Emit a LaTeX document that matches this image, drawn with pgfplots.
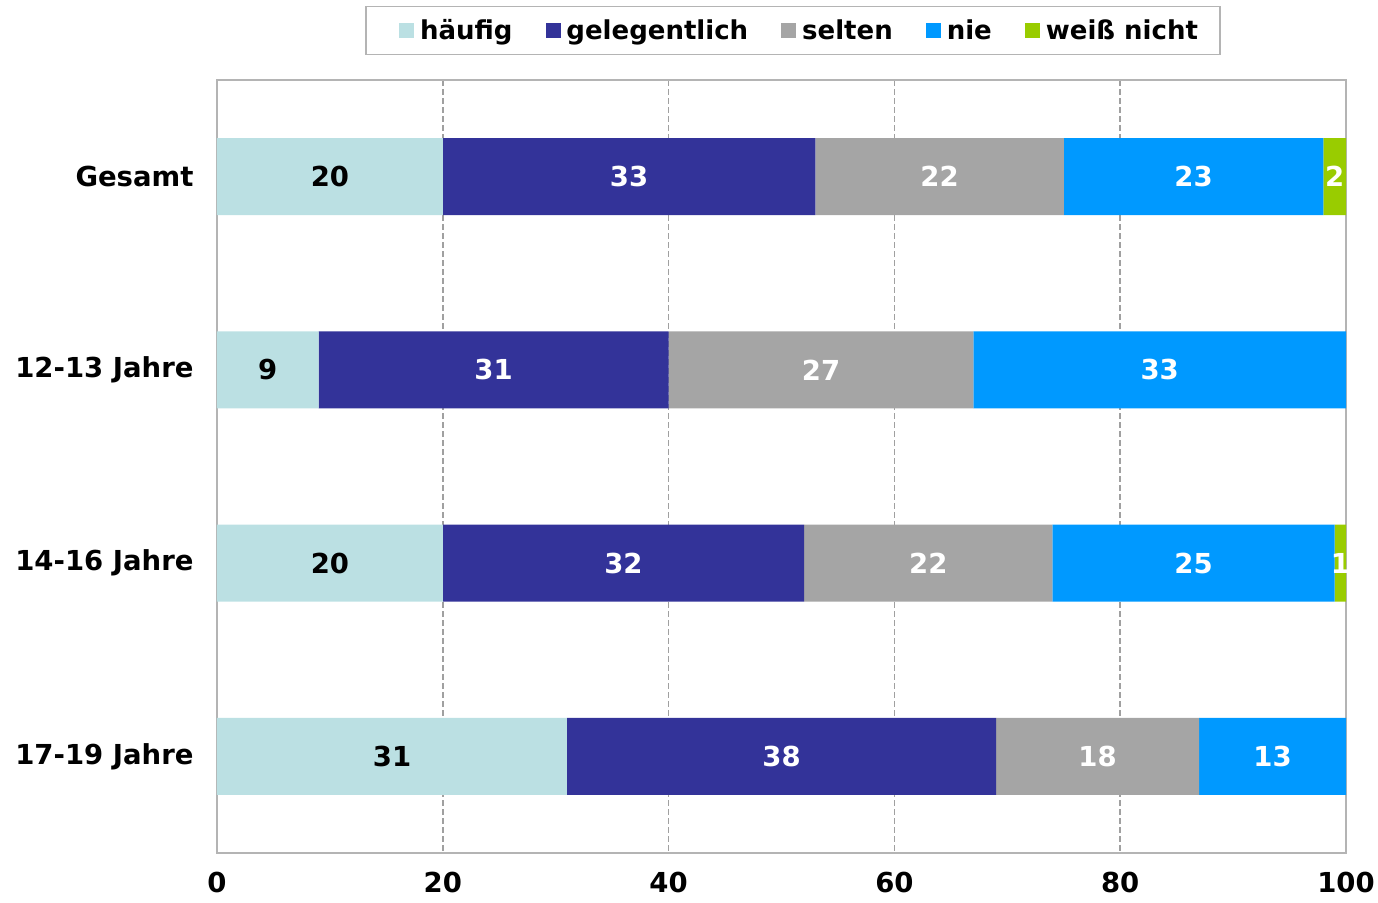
\documentclass[border=0pt]{standalone}
\usepackage{fontspec}
\setmainfont{DejaVu Sans}
\usepackage{pgfplots}
\pgfplotsset{compat=1.18}
\definecolor{haeufig}{HTML}{BBE0E3}
\definecolor{gelegentlich}{HTML}{333399}
\definecolor{selten}{HTML}{A5A5A5}
\definecolor{nie}{HTML}{0099FF}
\definecolor{weiss}{HTML}{99CC00}
\definecolor{gridc}{HTML}{A0A0A0}
\definecolor{framec}{HTML}{B4B4B4}
\pgfplotsset{
  legimg/.style={legend image code/.code={\fill[##1] (0pt,-7.5pt) rectangle (15pt,7.5pt);}},
  legimgfirst/.style={legend image code/.code={\path (-11pt,0pt); \fill[##1] (0pt,-7.5pt) rectangle (15pt,7.5pt);}}
}
\begin{document}
\begin{tikzpicture}
\useasboundingbox (-217pt,-49pt) rectangle (1161pt,853pt);
\begin{axis}[
  at={(0,0)}, anchor=south west,
  scale only axis, width=1129pt, height=773pt,
  xbar stacked, bar width=77pt,
  xmin=0, xmax=100, ymin=-0.5, ymax=3.5, y dir=reverse,
  xtick={0,20,40,60,80,100},
  ytick={0,1,2,3},
  yticklabels={Gesamt,12-13 Jahre,14-16 Jahre,17-19 Jahre},
  major tick length=0pt,
  xmajorgrids,
  grid style={gridc, dash pattern=on 6pt off 3pt, line width=1.5pt},
  axis line style={framec, line width=1.5pt},
  tick label style={font=\fontsize{27.5}{32}\selectfont\bfseries},
  /pgf/number format/assume math mode=true,
  xticklabel style={yshift=-16pt},
  yticklabel style={xshift=-20pt},
  legend columns=5,
  legend style={at={(0.5102,1.0323)}, anchor=south, draw=framec, line width=1.2pt,
    font=\fontsize{26}{30}\selectfont\bfseries,
    nodes={inner sep=0pt},
    inner xsep=22pt, inner ysep=13pt,
    /tikz/every odd column/.append style={column sep=6pt},
    /tikz/every even column/.append style={column sep=33pt}},
]
\addplot[fill=haeufig, draw=none, legimgfirst] coordinates {(20,0) (9,1) (20,2) (31,3)};
\addlegendentry{häufig}
\addplot[fill=gelegentlich, draw=none, legimg] coordinates {(33,0) (31,1) (32,2) (38,3)};
\addlegendentry{gelegentlich}
\addplot[fill=selten, draw=none, legimg] coordinates {(22,0) (27,1) (22,2) (18,3)};
\addlegendentry{selten}
\addplot[fill=nie, draw=none, legimg] coordinates {(23,0) (33,1) (25,2) (13,3)};
\addlegendentry{nie}
\addplot[fill=weiss, draw=none, legimg] coordinates {(2,0) (0,1) (1,2) (0,3)};
\addlegendentry{weiß nicht}
\end{axis}
\begin{axis}[
  at={(0,0)}, anchor=south west,
  scale only axis, width=1129pt, height=773pt,
  xmin=0, xmax=100, ymin=-0.5, ymax=3.5, y dir=reverse,
  hide axis,
  nodes near coords style={anchor=center, font=\fontsize{27.5}{32}\selectfont\bfseries},
]
\addplot[draw=none, mark=none, nodes near coords, point meta=explicit symbolic,
  nodes near coords style={text=black}]
  coordinates {(10,0) [20] (4.5,1) [9] (10,2) [20] (15.5,3) [31]};
\addplot[draw=none, mark=none, nodes near coords, point meta=explicit symbolic,
  nodes near coords style={text=white}]
  coordinates {(36.5,0) [33] (64,0) [22] (86.5,0) [23] (99,0) [2]
               (24.5,1) [31] (53.5,1) [27] (83.5,1) [33]
               (36,2) [32] (63,2) [22] (86.5,2) [25] (99.5,2) [1]
               (50,3) [38] (78,3) [18] (93.5,3) [13]};
\end{axis}
\end{tikzpicture}
\end{document}
